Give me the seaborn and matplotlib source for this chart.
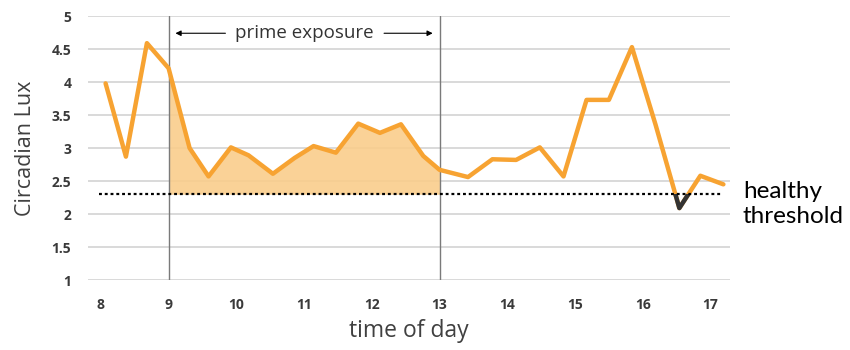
import numpy as np
import pandas as pd
import seaborn as sns
import matplotlib.pyplot as plt
from matplotlib.patches import Rectangle

# readings (hour of day, circadian lux)
hours = [8.07, 8.37, 8.68, 9.0, 9.31, 9.59, 9.92, 10.18, 10.54, 10.86,
         11.14, 11.47, 11.8, 12.12, 12.43, 12.76, 13.0, 13.42, 13.78, 14.13,
         14.48, 14.83, 15.17, 15.5, 15.84, 16.19, 16.54, 16.85, 17.19]
lux = [3.98, 2.87, 4.59, 4.21, 3.0, 2.57, 3.01, 2.89, 2.61, 2.85,
       3.03, 2.93, 3.37, 3.23, 3.36, 2.88, 2.67, 2.56, 2.83, 2.82,
       3.01, 2.57, 3.73, 3.73, 4.53, 3.35, 2.09, 2.58, 2.45]
threshold = 2.3
prime_start, prime_end = 9, 13
x_ticks = list(range(8, 18))
y_ticks = [1, 1.5, 2, 2.5, 3, 3.5, 4, 4.5, 5]

df = pd.DataFrame({"hour": hours, "lux": lux})

sns.set_style("white")
plt.rcParams["font.family"] = ["Open Sans", "DejaVu Sans"]

orange = "#F7A332"
fig = plt.figure(figsize=(8.5, 3.5), dpi=100)
ax = fig.add_axes([0.1035, 0.2, 0.7555, 0.754])

ax.set_xlim(7.81, 17.29)
ax.set_ylim(1, 5)

# shaded prime exposure area above the threshold
t = np.array(hours)
v = np.array(lux)
ax.fill_between(t, threshold, v, where=(t >= prime_start) & (t <= prime_end),
                color="#FACD8C", alpha=0.9, lw=0, zorder=1)

sns.lineplot(data=df, x="hour", y="lux", color=orange, lw=3.2, ax=ax, zorder=3)

# part of the line below the threshold in dark grey
dark, = ax.plot(hours, lux, color="#333333", lw=3.2, zorder=4)
dark.set_clip_path(Rectangle((7.5, 0.5), 10.5, threshold - 0.5, transform=ax.transData))

ax.plot([7.98, hours[-1]], [threshold, threshold], color="black", lw=1.6,
        ls=(0, (1.3, 1.3)), zorder=5)

for xv in (prime_start, prime_end):
    ax.axvline(xv, color="#7a7a7a", lw=1.0, zorder=2)

ax.annotate("", xy=(prime_start + 0.06, 4.74), xytext=(9.88, 4.74),
            arrowprops=dict(arrowstyle="-|>", color="black", lw=0.8, mutation_scale=8))
ax.annotate("", xy=(prime_end - 0.06, 4.74), xytext=(12.14, 4.74),
            arrowprops=dict(arrowstyle="-|>", color="black", lw=0.8, mutation_scale=8))
ax.text(11.0, 4.74, "prime exposure", ha="center", va="center", fontsize=13.5, color="#333333")

ax.set_yticks(y_ticks)
ax.set_yticklabels(["1", "1.5", "2", "2.5", "3", "3.5", "4", "4.5", "5"])
ax.set_xticks(x_ticks)
ax.grid(axis="y", color="#d9d9d9", lw=1.4)
ax.grid(axis="x", visible=False)
for s in ax.spines.values():
    s.set_visible(False)
ax.tick_params(axis="both", length=0, labelsize=10, colors="#3a3a3a")
ax.tick_params(axis="x", pad=13)
ax.tick_params(axis="y", pad=12)
for lab in ax.get_xticklabels() + ax.get_yticklabels():
    lab.set_fontweight("bold")

ax.set_xlabel("time of day", fontsize=16.5, color="#404040", labelpad=5)
ax.set_ylabel("Circadian Lux", fontsize=15.5, color="#404040", labelpad=11)

fig.text(0.874, 0.417, "healthy\nthreshold", ha="left", va="center", fontsize=17.5,
         color="black", linespacing=1.25, family=["Lato", "DejaVu Sans"])

fig.savefig("out.png", dpi=100)
